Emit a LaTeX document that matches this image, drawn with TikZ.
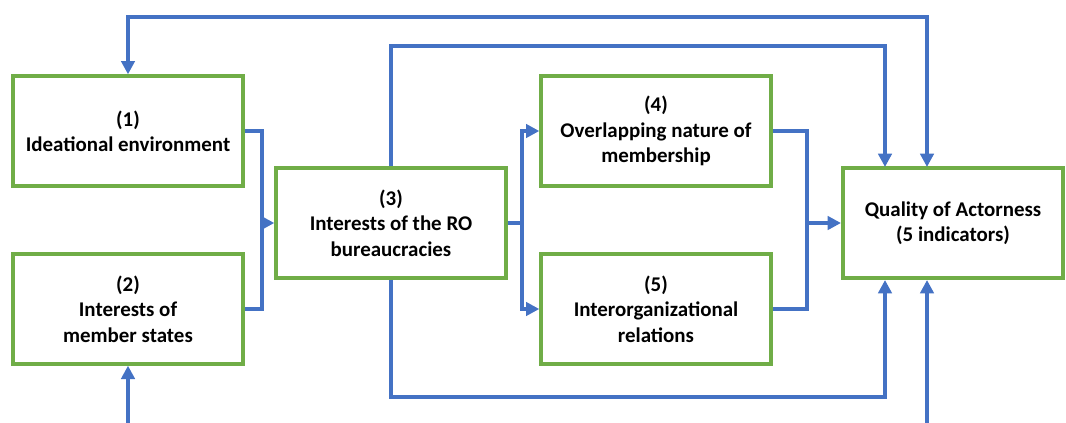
\documentclass[tikz,border=0pt]{standalone}
\usepackage{fontspec}
\setmainfont{Carlito}
\usetikzlibrary{arrows.meta}
\definecolor{boxgreen}{HTML}{70AD47}
\definecolor{linkblue}{HTML}{4472C4}
\begin{document}
\begin{tikzpicture}[x=0.75pt,y=-0.75pt,
		box/.style={draw=boxgreen,line width=3pt,minimum width=172pt,minimum height=82pt,
			align=center,inner sep=0pt,font=\fontsize{15.7}{19}\selectfont\bfseries},
		link/.style={draw=linkblue,line width=3pt},
		flow/.style={link,-{Triangle[length=10pt,width=10pt]}}]
		\useasboundingbox (0,0) rectangle (1066,422);
		% factor boxes
		\node[box] (ideas) at (128,131) {(1)\\Ideational environment};
		\node[box] (members) at (128,309) {(2)\\Interests of\\member states};
		\node[box] (bureau) at (391,223) {(3)\\Interests of the RO\\bureaucracies};
		\node[box] (overlap) at (656,131) {(4)\\Overlapping nature of\\membership};
		\node[box] (interorg) at (656,309) {(5)\\Interorganizational\\relations};
		\node[box,minimum width=165pt] (quality) at (953,223) {Quality of Actorness\\(5 indicators)};
		% bend points
		\coordinate (join12) at (262,223);
		\coordinate (fork) at (522,223);
		\coordinate (join45) at (807,223);
		\coordinate (outer) at (527,17);
		\coordinate (upper) at (640,46);
		\coordinate (lower) at (640,397);
		\coordinate (qin1) at (885,167);
		\coordinate (qin2) at (927,167);
		\coordinate (qout1) at (885,280);
		\coordinate (qout2) at (927,280);
		\coordinate (from2) at (128,424);
		\coordinate (from6) at (927,424);
		% (1),(2) -> (3)
		\draw[link] (ideas.east) -| (join12) |- (members.east);
		\draw[flow] (join12) -- (bureau.west);
		% (3) -> (4),(5)
		\draw[link] (bureau.east) -- (fork);
		\draw[flow] (fork) |- (overlap.west);
		\draw[flow] (fork) |- (interorg.west);
		% (4),(5) -> quality
		\draw[link] (overlap.east) -| (join45) |- (interorg.east);
		\draw[flow] (join45) -- (quality.west);
		% feedback loops
		\draw[flow,{Triangle[length=10pt,width=10pt]}-{Triangle[length=10pt,width=10pt]}] (ideas.north) |- (outer) -| (qin2);
		\draw[flow] (bureau.north) |- (upper) -| (qin1);
		\draw[flow] (bureau.south) |- (lower) -| (qout1);
		\draw[flow] (from2) -- (members.south);
		\draw[flow] (from6) -- (qout2);
	\end{tikzpicture}
\end{document}
